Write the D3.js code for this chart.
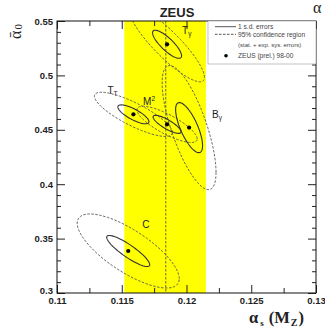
<!DOCTYPE html>
<html>
<head>
<meta charset="utf-8">
<script src="https://cdn.jsdelivr.net/npm/d3@7"></script>
<style>
  html, body { margin: 0; padding: 0; background: #fff; }
  svg { display: block; }
</style>
</head>
<body>
<svg id="chart" width="325" height="328"></svg>
<script>
// Event-shape fits: alpha_s(M_Z) versus alpha_0 for each variable
const shapes   = ["T_γ", "T_T", "M^2", "B_γ", "C"];
const alphaS   = [0.1185, 0.1159, 0.1185, 0.1202, 0.1155];
const alpha0   = [0.5286, 0.4642, 0.4550, 0.4520, 0.3386];

// 1 s.d. (statistical) errors and their correlation
const statS    = [0.00112, 0.00120, 0.00108, 0.00104, 0.00166];
const stat0    = [0.0129, 0.0087, 0.0083, 0.0230, 0.0143];
const statRho  = [-0.82, -0.78, -0.82, -0.72, -0.88];

// stat. + exp. sys. errors used for the 95% confidence regions
const totS     = [0.00118, 0.00123, 0.00095, 0.00085, 0.00161];
const tot0     = [0.0141, 0.0083, 0.0068, 0.0233, 0.0139];
const totRho   = [-0.88, -0.82, -0.80, -0.72, -0.75];
const k95      = Math.sqrt(5.991); // chi2 quantile, 2 d.o.f.

// alpha_s band and central value
const asCentral = 0.1184;
const asBand    = [0.1152, 0.1215];

// axis ticks
const xTicks      = [0.11, 0.115, 0.12, 0.125, 0.13];
const xTickLabels = ["0.11", "0.115", "0.12", "0.125", "0.13"];
const xMinor      = [0.1125, 0.1175, 0.1225, 0.1275];
const yTicks      = [0.3, 0.35, 0.4, 0.45, 0.5, 0.55];
const yTickLabels = ["0.3", "0.35", "0.4", "0.45", "0.5", "0.55"];
const yMinor      = [0.31, 0.32, 0.33, 0.34, 0.36, 0.37, 0.38, 0.39, 0.41, 0.42, 0.43, 0.44,
                     0.46, 0.47, 0.48, 0.49, 0.51, 0.52, 0.53, 0.54];

const legendItems = ["1 s.d. errors", "95% confidence region", "(stat. + exp. sys. errors)", "ZEUS (prel.) 98-00"];

// ---------------------------------------------------------------
const svg = d3.select("#chart");
const L = 57, R = 316, T = 21, B = 293;
const x = d3.scaleLinear().domain([0.11, 0.13]).range([L, R]);
const y = d3.scaleLinear().domain([0.3, 0.55]).range([B, T]);

svg.append("defs").append("clipPath").attr("id", "plotClip")
  .append("rect").attr("x", L).attr("y", T).attr("width", R - L).attr("height", B - T);

const plot = svg.append("g").attr("clip-path", "url(#plotClip)");

// yellow alpha_s band
plot.append("rect")
  .attr("x", x(asBand[0])).attr("y", T)
  .attr("width", x(asBand[1]) - x(asBand[0])).attr("height", B - T)
  .attr("fill", "#ffff00");

// central value
plot.append("line")
  .attr("x1", x(asCentral)).attr("x2", x(asCentral))
  .attr("y1", T).attr("y2", B)
  .attr("stroke", "#555").attr("stroke-width", 0.9)
  .attr("stroke-dasharray", "2.5,1.5");

// error ellipse outline from a 2x2 covariance (sx, sy, rho) scaled by k
function ellipse(cx, cy, sx, sy, rho, k) {
  const n = 120, pts = [];
  const q = Math.sqrt(1 - rho * rho);
  for (let i = 0; i < n; i++) {
    const t = 2 * Math.PI * i / n, u = Math.cos(t), v = Math.sin(t);
    pts.push([cx + k * sx * u, cy + k * sy * (rho * u + q * v)]);
  }
  return pts;
}
const path = d3.line().x(d => x(d[0])).y(d => y(d[1])).curve(d3.curveLinearClosed);

shapes.forEach((s, i) => {
  plot.append("path")
    .attr("d", path(ellipse(alphaS[i], alpha0[i], totS[i], tot0[i], totRho[i], k95)))
    .attr("fill", "none").attr("stroke", "#555").attr("stroke-width", 0.9)
    .attr("stroke-dasharray", "2.5,1.5");
});
shapes.forEach((s, i) => {
  plot.append("path")
    .attr("d", path(ellipse(alphaS[i], alpha0[i], statS[i], stat0[i], statRho[i], 1)))
    .attr("fill", "none").attr("stroke", "#333").attr("stroke-width", 1.1);
});
plot.selectAll("circle.pt").data(shapes).enter().append("circle")
  .attr("class", "pt")
  .attr("cx", (d, i) => x(alphaS[i])).attr("cy", (d, i) => y(alpha0[i]))
  .attr("r", 2.1).attr("fill", "#000");

// shape labels, placed relative to each central point
const labelOffset = { "T_γ": [15, -10], "T_T": [-26, -20], "M^2": [-24, -19], "B_γ": [23, -10], "C": [14, -23] };
shapes.forEach((s, i) => {
  const [dx, dy] = labelOffset[s];
  const t = svg.append("text")
    .attr("x", x(alphaS[i]) + dx).attr("y", y(alpha0[i]) + dy)
    .attr("font-family", "Liberation Sans, Arial, sans-serif")
    .attr("font-size", 10).attr("fill", "#222");
  const m = s.match(/^([^_^]+)([_^])?(.*)$/);
  t.append("tspan").text(m[1]);
  if (m[2] === "_") t.append("tspan").attr("font-size", 6.5).attr("dy", 2).text(m[3]);
  if (m[2] === "^") t.append("tspan").attr("font-size", 6.5).attr("dy", -4).text(m[3]);
});

// axes with inward ticks on all four sides
const tickFont = g => g.selectAll("text")
  .attr("font-family", "Liberation Sans, Arial, sans-serif")
  .attr("font-weight", "bold").attr("font-size", 9.5).attr("fill", "#222");
const tickLine = g => { g.select(".domain").remove(); g.selectAll("line").attr("stroke", "#222"); };

svg.append("g").attr("transform", `translate(0,${B})`)
  .call(d3.axisBottom(x).tickValues(xTicks).tickSize(-8).tickPadding(4)
    .tickFormat((d, i) => xTickLabels[i]))
  .call(tickLine).call(tickFont);
svg.append("g").attr("transform", `translate(0,${B})`)
  .call(d3.axisBottom(x).tickValues(xMinor).tickSize(-5).tickFormat(""))
  .call(tickLine);
svg.append("g").attr("transform", `translate(0,${T})`)
  .call(d3.axisTop(x).tickValues(xTicks).tickSize(-8).tickFormat(""))
  .call(tickLine);
svg.append("g").attr("transform", `translate(0,${T})`)
  .call(d3.axisTop(x).tickValues(xMinor).tickSize(-5).tickFormat(""))
  .call(tickLine);

const yAxis = svg.append("g").attr("transform", `translate(${L},0)`)
  .call(d3.axisLeft(y).tickValues(yTicks).tickSize(-8).tickPadding(4)
    .tickFormat((d, i) => yTickLabels[i]))
  .call(tickLine).call(tickFont);
// lowest label sits slightly above the corner
yAxis.selectAll(".tick").filter(d => d === 0.3).select("text").attr("dy", "0.05em");
svg.append("g").attr("transform", `translate(${L},0)`)
  .call(d3.axisLeft(y).tickValues(yMinor).tickSize(-4).tickFormat(""))
  .call(tickLine);
svg.append("g").attr("transform", `translate(${R},0)`)
  .call(d3.axisRight(y).tickValues(yTicks).tickSize(-8).tickFormat(""))
  .call(tickLine);
svg.append("g").attr("transform", `translate(${R},0)`)
  .call(d3.axisRight(y).tickValues(yMinor).tickSize(-4).tickFormat(""))
  .call(tickLine);

// frame
svg.append("rect").attr("x", L).attr("y", T).attr("width", R - L).attr("height", B - T)
  .attr("fill", "none").attr("stroke", "#111").attr("stroke-width", 1);

// legend
const lg = svg.append("g");
lg.append("rect").attr("x", 208).attr("y", T).attr("width", R - 208).attr("height", 43)
  .attr("fill", "#fff").attr("stroke", "#999").attr("stroke-width", 0.6);
const rowY = [26.7, 34.3, 45, 55.7];
lg.append("line").attr("x1", 215).attr("x2", 236).attr("y1", rowY[0]).attr("y2", rowY[0])
  .attr("stroke", "#444").attr("stroke-width", 0.9);
lg.append("line").attr("x1", 215).attr("x2", 236).attr("y1", rowY[1]).attr("y2", rowY[1])
  .attr("stroke", "#444").attr("stroke-width", 0.9).attr("stroke-dasharray", "2.5,1.5");
lg.append("circle").attr("cx", 226).attr("cy", rowY[3]).attr("r", 1.8).attr("fill", "#000");
legendItems.forEach((t, i) => {
  lg.append("text").attr("x", 238).attr("y", rowY[i]).attr("dy", "0.35em")
    .attr("font-family", "Liberation Sans, Arial, sans-serif")
    .attr("font-size", i === 2 ? 6 : 6.6).attr("fill", "#444").text(t);
});

// title
svg.append("text").attr("x", 177).attr("y", 17).attr("text-anchor", "middle")
  .attr("font-family", "Liberation Sans, Arial, sans-serif")
  .attr("font-weight", "bold").attr("font-size", 13).attr("fill", "#222").text("ZEUS");

// y title: mean alpha_0
const yt = svg.append("text").attr("transform", "translate(21,39) rotate(-90)")
  .attr("font-family", "Liberation Serif, Times New Roman, serif")
  .attr("font-size", 16).attr("fill", "#222");
yt.append("tspan").text("ᾱ");
yt.append("tspan").attr("dx", 1).attr("dy", 1).attr("font-size", 11).text("0");

// x title: alpha_s(M_Z)
const xt = svg.append("text").attr("x", 249).attr("y", 323)
  .attr("font-family", "Liberation Serif, Times New Roman, serif")
  .attr("font-weight", "bold").attr("font-size", 16.5).attr("fill", "#222");
xt.append("tspan").text("α");
xt.append("tspan").attr("dx", 2).attr("dy", 3).attr("font-size", 9).text("s");
xt.append("tspan").attr("dx", 5).attr("dy", -3).text("(M");
xt.append("tspan").attr("dx", 1).attr("dy", 3).attr("font-size", 10).text("Z");
xt.append("tspan").attr("dx", 1).attr("dy", -3).text(")");

// neighbouring panel's axis title at the right edge
svg.append("text").attr("x", 313).attr("y", 13)
  .attr("font-family", "Liberation Serif, Times New Roman, serif")
  .attr("font-size", 16).attr("fill", "#222").text("α");
</script>
</body>
</html>
